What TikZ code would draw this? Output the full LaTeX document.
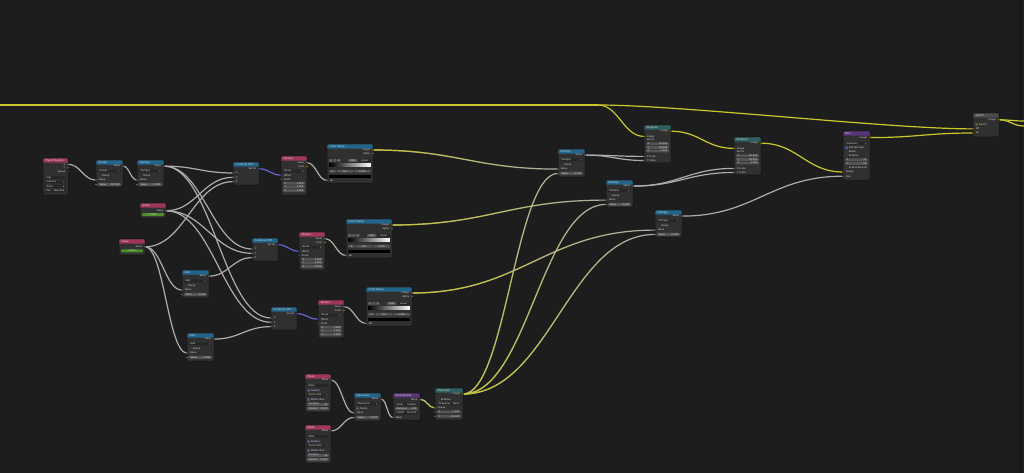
\documentclass[tikz,border=0pt]{standalone}
\usepackage{fontspec}
\setmainfont{DejaVu Sans}
\usepackage{tikz}
\usetikzlibrary{calc,backgrounds,fadings,positioning}
\definecolor{bgc}{HTML}{1D1D1D}
\definecolor{gridc}{HTML}{272727}
\definecolor{bodyc}{HTML}{303030}
\definecolor{edgec}{HTML}{121212}
\definecolor{fieldc}{HTML}{545454}
\definecolor{dropc}{HTML}{262626}
\definecolor{txtc}{HTML}{D6D6D6}
\definecolor{inpc}{HTML}{A0365E}
\definecolor{cnvc}{HTML}{22658A}
\definecolor{dstc}{HTML}{2E6062}
\definecolor{fltc}{HTML}{5A3478}
\definecolor{layc}{HTML}{4A4A4A}
\definecolor{fsock}{HTML}{A1A1A1}
\definecolor{csock}{HTML}{C7C729}
\definecolor{vsock}{HTML}{6363C7}
\definecolor{valc}{HTML}{4C8F2A}
\definecolor{chkc}{HTML}{4772B3}
\definecolor{linkg}{HTML}{ADADAD}
\definecolor{linky}{HTML}{C9C92B}
\definecolor{linkv}{HTML}{6565D0}
\tikzfading[name=tored,left color=transparent!0,right color=transparent!100]

\newcommand{\sz}{\fontsize{2.4}{3}\selectfont}
\newcommand{\hz}{\fontsize{2.6}{3}\selectfont}
% name, x, y, width, height, header colour, title
\newcommand{\bnode}[7]{%
  \node[nbody,minimum width=#4,minimum height=#5] (#1) at (#2,#3) {};
  \fill[#6] ($(#1.north west)+(0.3,4.6)$) [rounded corners=1] -- ($(#1.north west)+(0.3,0.3)$)
    -- ($(#1.north east)+(-0.3,0.3)$) [sharp corners] -- ($(#1.north east)+(-0.3,4.6)$) -- cycle;
  \node[htxt] at ($(#1.north west)+(2.5,2.5)$) {#7};}
\newcommand{\sockout}[5]{%
  \coordinate (#5) at ($(#1.north east)+(0,#2)$);
  \node[stxt,anchor=east] at ($(#5)+(-2.6,0)$) {#3};
  \fill[#4,draw=black,line width=0.2] (#5) circle (1.1);}
\newcommand{\sockin}[5]{%
  \coordinate (#5) at ($(#1.north west)+(0,#2)$);
  \node[stxt,anchor=west] at ($(#5)+(2.6,0)$) {#3};
  \fill[#4,draw=black,line width=0.2] (#5) circle (1.1);}
\newcommand{\fld}[5][fieldc]{%
  \fill[#1,rounded corners=0.7] ($(#2.north west)+(2.2,#3-1.45)$) rectangle ($(#2.north east)+(-2.2,#3+1.45)$);
  \node[stxt,anchor=west] at ($(#2.north west)+(3.4,#3)$) {#4};
  \node[stxt,anchor=east] at ($(#2.north east)+(-3.4,#3)$) {#5};}
\newcommand{\cfld}[4][fieldc]{%
  \fill[#1,rounded corners=0.7] ($(#2.north west)+(2.2,#3-1.45)$) rectangle ($(#2.north east)+(-2.2,#3+1.45)$);
  \node[stxt] at ($(#2.north)+(0,#3)$) {#4};}
\newcommand{\drp}[3]{%
  \fld[dropc]{#1}{#2}{#3}{}
  \draw[txtc,line width=0.2] ($(#1.north east)+(-4.8,#2-0.3)$) -- ++(0.55,0.6) -- ++(0.55,-0.6);}
\newcommand{\chk}[4]{%
  \filldraw[fill=#4,draw=black!70,line width=0.2,rounded corners=0.3] ($(#1.north west)+(2.5,#2-1.1)$) rectangle ++(2.2,2.2);
  \node[stxt,anchor=west] at ($(#1.north west)+(5.6,#2)$) {#3};}
\newcommand{\btn}[6][fieldc]{%
  \fill[#1,rounded corners=0.6] ($(#2.north west)+(#3,#5-1.4)$) rectangle ($(#2.north west)+(#4,#5+1.4)$);
  \node[stxt] at ($(#2.north west)+({(#3+#4)/2},#5)$) {#6};}
\newcommand{\lnk}[3]{\draw[#1] let \p1=($(#3)-(#2)$) in
  (#2) .. controls +({max(0.45*abs(\x1),6)},0) and +({-max(0.45*abs(\x1),6)},0) .. (#3);}
\newcommand{\glnk}[2]{\lnk{flink}{#1}{#2}\lnk{clink,path fading=tored}{#1}{#2}}
\newcommand{\rglnk}[2]{\lnk{clink}{#1}{#2}\lnk{flink,path fading=tored}{#1}{#2}}
\newcommand{\mathnode}[7]{% name, x, y, title, field value, clamp fill, height
  \bnode{#1}{#2}{#3}{27}{#7}{cnvc}{#4}
  \sockout{#1}{6.1}{Value}{fsock}{#1-o}
  \drp{#1}{11}{#4}
  \chk{#1}{15.5}{Clamp}{#6}
  \sockin{#1}{20.1}{Value}{fsock}{#1-a}
  \fld{#1}{24.4}{Value}{#5}
  \sockin{#1}{24.4}{}{fsock}{#1-b}}
\newcommand{\combnode}[3]{%
  \bnode{#1}{#2}{#3}{26}{23}{cnvc}{Combine XYZ}
  \sockout{#1}{6.7}{Vector}{vsock}{#1-o}
  \sockin{#1}{11}{X}{fsock}{#1-x}
  \sockin{#1}{15.3}{Y}{fsock}{#1-y}
  \sockin{#1}{19.6}{Z}{fsock}{#1-z}}
\newcommand{\texnode}[4]{%
  \bnode{#1}{#2}{#3}{26}{#4}{inpc}{Texture}
  \sockout{#1}{6.7}{Value}{fsock}{#1-v}
  \sockout{#1}{10.2}{Color}{csock}{#1-c}
  \drp{#1}{15.1}{Noise}
  \sockin{#1}{19.2}{Offset}{vsock}{#1-off}
  \sockin{#1}{23.3}{Scale}{vsock}{#1-sc}
  \fld{#1}{27.2}{X}{1.000}
  \fld{#1}{30.9}{Y}{1.000}
  \fld{#1}{34.6}{Z}{1.000}}
\newcommand{\rampnode}[3]{%
  \bnode{#1}{#2}{#3}{46}{39}{cnvc}{Color Ramp}
  \sockout{#1}{6}{Image}{csock}{#1-img}
  \sockout{#1}{9.5}{Alpha}{fsock}{#1-al}
  \btn{#1}{2.2}{5.6}{16.5}{+}
  \btn{#1}{6.2}{9.6}{16.5}{-}
  \btn{#1}{10.2}{13.6}{16.5}{v}
  \btn{#1}{21}{30.5}{16.5}{RGB}
  \btn[dropc]{#1}{31.2}{43.8}{16.5}{Linear}
  \shade[left color=black,right color=white] ($(#1.north west)+(2.2,19.9)$) rectangle ($(#1.north east)+(-2.2,22.9)$);
  \btn{#1}{2.2}{9}{27.3}{0}
  \btn{#1}{9.8}{26.5}{27.3}{Pos}
  \btn{#1}{27.3}{43.8}{27.3}{0.000}
  \fill[black] ($(#1.north west)+(2.2,31.1)$) rectangle ($(#1.north east)+(-2.2,33.5)$);
  \sockin{#1}{36.4}{Fac}{fsock}{#1-fac}}
\newcommand{\dspnode}[3]{%
  \bnode{#1}{#2}{#3}{27}{38}{dstc}{Displace}
  \sockout{#1}{6.2}{Image}{csock}{#1-o}
  \sockin{#1}{11.4}{Image}{csock}{#1-img}
  \sockin{#1}{15}{Vector}{vsock}{#1-vec}
  \fld{#1}{18.8}{X}{10.000}
  \fld{#1}{22.4}{Y}{10.000}
  \fld{#1}{26}{Z}{1.000}
  \sockin{#1}{31.4}{X Scale}{fsock}{#1-xs}
  \sockin{#1}{35.5}{Y Scale}{fsock}{#1-ys}}
\newcommand{\masknode}[3]{%
  \bnode{#1}{#2}{#3}{26}{38}{inpc}{Mask}
  \sockout{#1}{6}{Mask}{fsock}{#1-o}
  \fld[dropc]{#1}{11.5}{Mask}{}
  \chk{#1}{16.4}{Feather}{chkc}
  \drp{#1}{21}{Scene Size}
  \chk{#1}{25.5}{Motion Blur}{chkc}
  \fld{#1}{30.3}{Samples}{16}
  \fld{#1}{34.6}{Shutter}{0.500}}

\begin{document}
\begin{tikzpicture}[x=1pt,y=-1pt,
  nbody/.style={anchor=north west,fill=bodyc,draw=edgec,line width=0.5,rounded corners=1,inner sep=0,outer sep=0},
  htxt/.style={anchor=west,font=\hz,text=white!88!black,inner sep=0},
  stxt/.style={font=\sz,text=txtc,inner sep=0},
  flink/.style={draw=linkg,line width=1.2},
  clink/.style={draw=linky,line width=1.2},
  vlink/.style={draw=linkv,line width=1.2}]
\useasboundingbox (0,0) rectangle (1024,473);

% driver chain
\bnode{tp}{43}{158}{25}{37}{inpc}{Track Position}
\sockout{tp}{6.3}{X}{fsock}{tp-x}
\sockout{tp}{9.8}{Y}{fsock}{tp-y}
\sockout{tp}{14}{Speed}{vsock}{tp-s}
\fld[dropc]{tp}{19.5}{Clip}{}
\drp{tp}{24}{Camera}
\drp{tp}{28.5}{Track}
\fld[dropc]{tp}{33}{Pos.}{Absolute}
\mathnode{div}{96}{160}{Divide}{60.000}{dropc}{27}
\mathnode{mul}{137}{160}{Multiply}{0.100}{dropc}{27}
\bnode{va}{140}{203}{26}{15}{inpc}{Value}
\sockout{va}{7.8}{Value}{fsock}{va-o}
\cfld[valc]{va}{11.6}{0.500}
\bnode{vb}{119}{239}{26}{16}{inpc}{Value}
\sockout{vb}{7.8}{Value}{fsock}{vb-o}
\cfld[valc]{vb}{11.8}{0.050}
\mathnode{ad}{182}{270}{Add}{1.000}{dropc}{28}
\mathnode{ae}{187}{333}{Add}{2.000}{dropc}{28}

% three texture branches
\combnode{ca}{233}{162}
\combnode{cb}{252}{238}
\combnode{cc}{271}{307}
\texnode{ta}{281}{156}{39}
\texnode{tb}{299}{232}{38}
\texnode{tc}{318}{300}{38}
\rampnode{ra}{327}{144}
\rampnode{rb}{346}{219}
\rampnode{rc}{366}{287}
\mathnode{mA}{558}{149}{Multiply}{0.500}{dropc}{28}
\mathnode{mB}{606}{180}{Multiply}{0.500}{dropc}{27}
\mathnode{mC}{655}{210}{Multiply}{0.500}{dropc}{27}

% mask branch
\masknode{ka}{305}{374}
\masknode{kb}{305}{425}
\mathnode{mx}{354}{393}{Maximum}{0.500}{chkc}{28}
\bnode{de}{393}{393}{27}{27}{fltc}{Dilate/Erode}
\sockout{de}{6.2}{Mask}{fsock}{de-o}
\fld[dropc]{de}{11.2}{Mode}{Feather}
\fld{de}{15.7}{Distance}{-100}
\fld[dropc]{de}{20.1}{Falloff}{Smooth}
\sockin{de}{24.6}{Mask}{fsock}{de-i}
\bnode{tr}{435}{388}{28}{32}{dstc}{Translate}
\sockout{tr}{6}{Image}{csock}{tr-o}
\chk{tr}{11.6}{Relative}{dropc}
\fld[dropc]{tr}{15.7}{Wrapping}{None}
\sockin{tr}{20}{Image}{csock}{tr-img}
\fld{tr}{24}{X}{0.000}
\sockin{tr}{24}{}{fsock}{tr-x}
\fld{tr}{28.2}{Y}{-10.000}
\sockin{tr}{28.2}{}{fsock}{tr-y}

% output chain
\dspnode{da}{644}{125}
\dspnode{db}{734}{137}
\bnode{bl}{843}{131}{27}{49}{fltc}{Blur}
\sockout{bl}{6.6}{Image}{csock}{bl-o}
\drp{bl}{12.3}{Gaussian}
\chk{bl}{16.8}{Variable Size}{chkc}
\chk{bl}{20.8}{Bokeh}{dropc}
\chk{bl}{24.8}{Relative}{dropc}
\fld{bl}{28.9}{X}{10}
\fld{bl}{32.5}{Y}{10}
\chk{bl}{36.6}{Extend Bounds}{dropc}
\sockin{bl}{41}{Image}{csock}{bl-img}
\sockin{bl}{45.2}{Size}{fsock}{bl-size}
\bnode{sw}{973}{113}{26}{24}{layc}{Switch}
\sockout{sw}{6.8}{Image}{csock}{sw-o}
\chk{sw}{11.6}{Switch}{valc}
\sockin{sw}{15.9}{Off}{csock}{sw-off}
\sockin{sw}{20}{On}{csock}{sw-on}

\coordinate (rl) at (0,105);
\coordinate (rlk) at (598,105);
\coordinate (ea) at (1024,121);
\coordinate (eb) at (1024,126);

\begin{pgfonlayer}{background}
  \fill[bgc] (0,0) rectangle (1024,473);
  \foreach \gx in {12,32,...,1012}
    \foreach \gy in {8,28,...,468}
      \fill[gridc] (\gx,\gy) circle (0.45);
  \fill[black!20!bgc] (1018.5,0) rectangle (1021.5,473);
  % links
  \lnk{flink}{tp-x}{div-a}
  \lnk{flink}{div-o}{mul-a}
  \lnk{flink}{mul-o}{ca-x}
  \lnk{flink}{mul-o}{cb-x}
  \lnk{flink}{mul-o}{cc-x}
  \lnk{flink}{va-o}{ca-y}
  \lnk{flink}{va-o}{cb-y}
  \lnk{flink}{va-o}{cc-y}
  \lnk{flink}{vb-o}{ca-z}
  \lnk{flink}{vb-o}{ad-a}
  \lnk{flink}{vb-o}{ae-a}
  \lnk{flink}{ad-o}{cb-z}
  \lnk{flink}{ae-o}{cc-z}
  \lnk{vlink}{ca-o}{ta-off}
  \lnk{vlink}{cb-o}{tb-off}
  \lnk{vlink}{cc-o}{tc-off}
  \lnk{flink}{ta-v}{ra-fac}
  \lnk{flink}{tb-v}{rb-fac}
  \lnk{flink}{tc-v}{rc-fac}
  \glnk{ra-img}{mA-a}
  \glnk{rb-img}{mB-a}
  \glnk{rc-img}{mC-a}
  \lnk{flink}{ka-o}{mx-a}
  \lnk{flink}{kb-o}{mx-b}
  \lnk{flink}{mx-o}{de-i}
  \rglnk{de-o}{tr-img}
  \glnk{tr-o}{mA-b}
  \glnk{tr-o}{mB-b}
  \glnk{tr-o}{mC-b}
  \lnk{flink}{mA-o}{da-xs}
  \lnk{flink}{mA-o}{da-ys}
  \lnk{flink}{mB-o}{db-xs}
  \lnk{flink}{mB-o}{db-ys}
  \lnk{flink}{mC-o}{bl-size}
  \draw[clink] (rl) -- (rlk);
  \lnk{clink}{rlk}{da-img}
  \draw[clink] (rlk) .. controls (680,105) and (890,129) .. (sw-off);
  \lnk{clink}{da-o}{db-img}
  \lnk{clink}{db-o}{bl-img}
  \lnk{clink}{bl-o}{sw-on}
  \lnk{clink}{sw-o}{ea}
  \lnk{clink}{sw-o}{eb}
\end{pgfonlayer}
\end{tikzpicture}
\end{document}
